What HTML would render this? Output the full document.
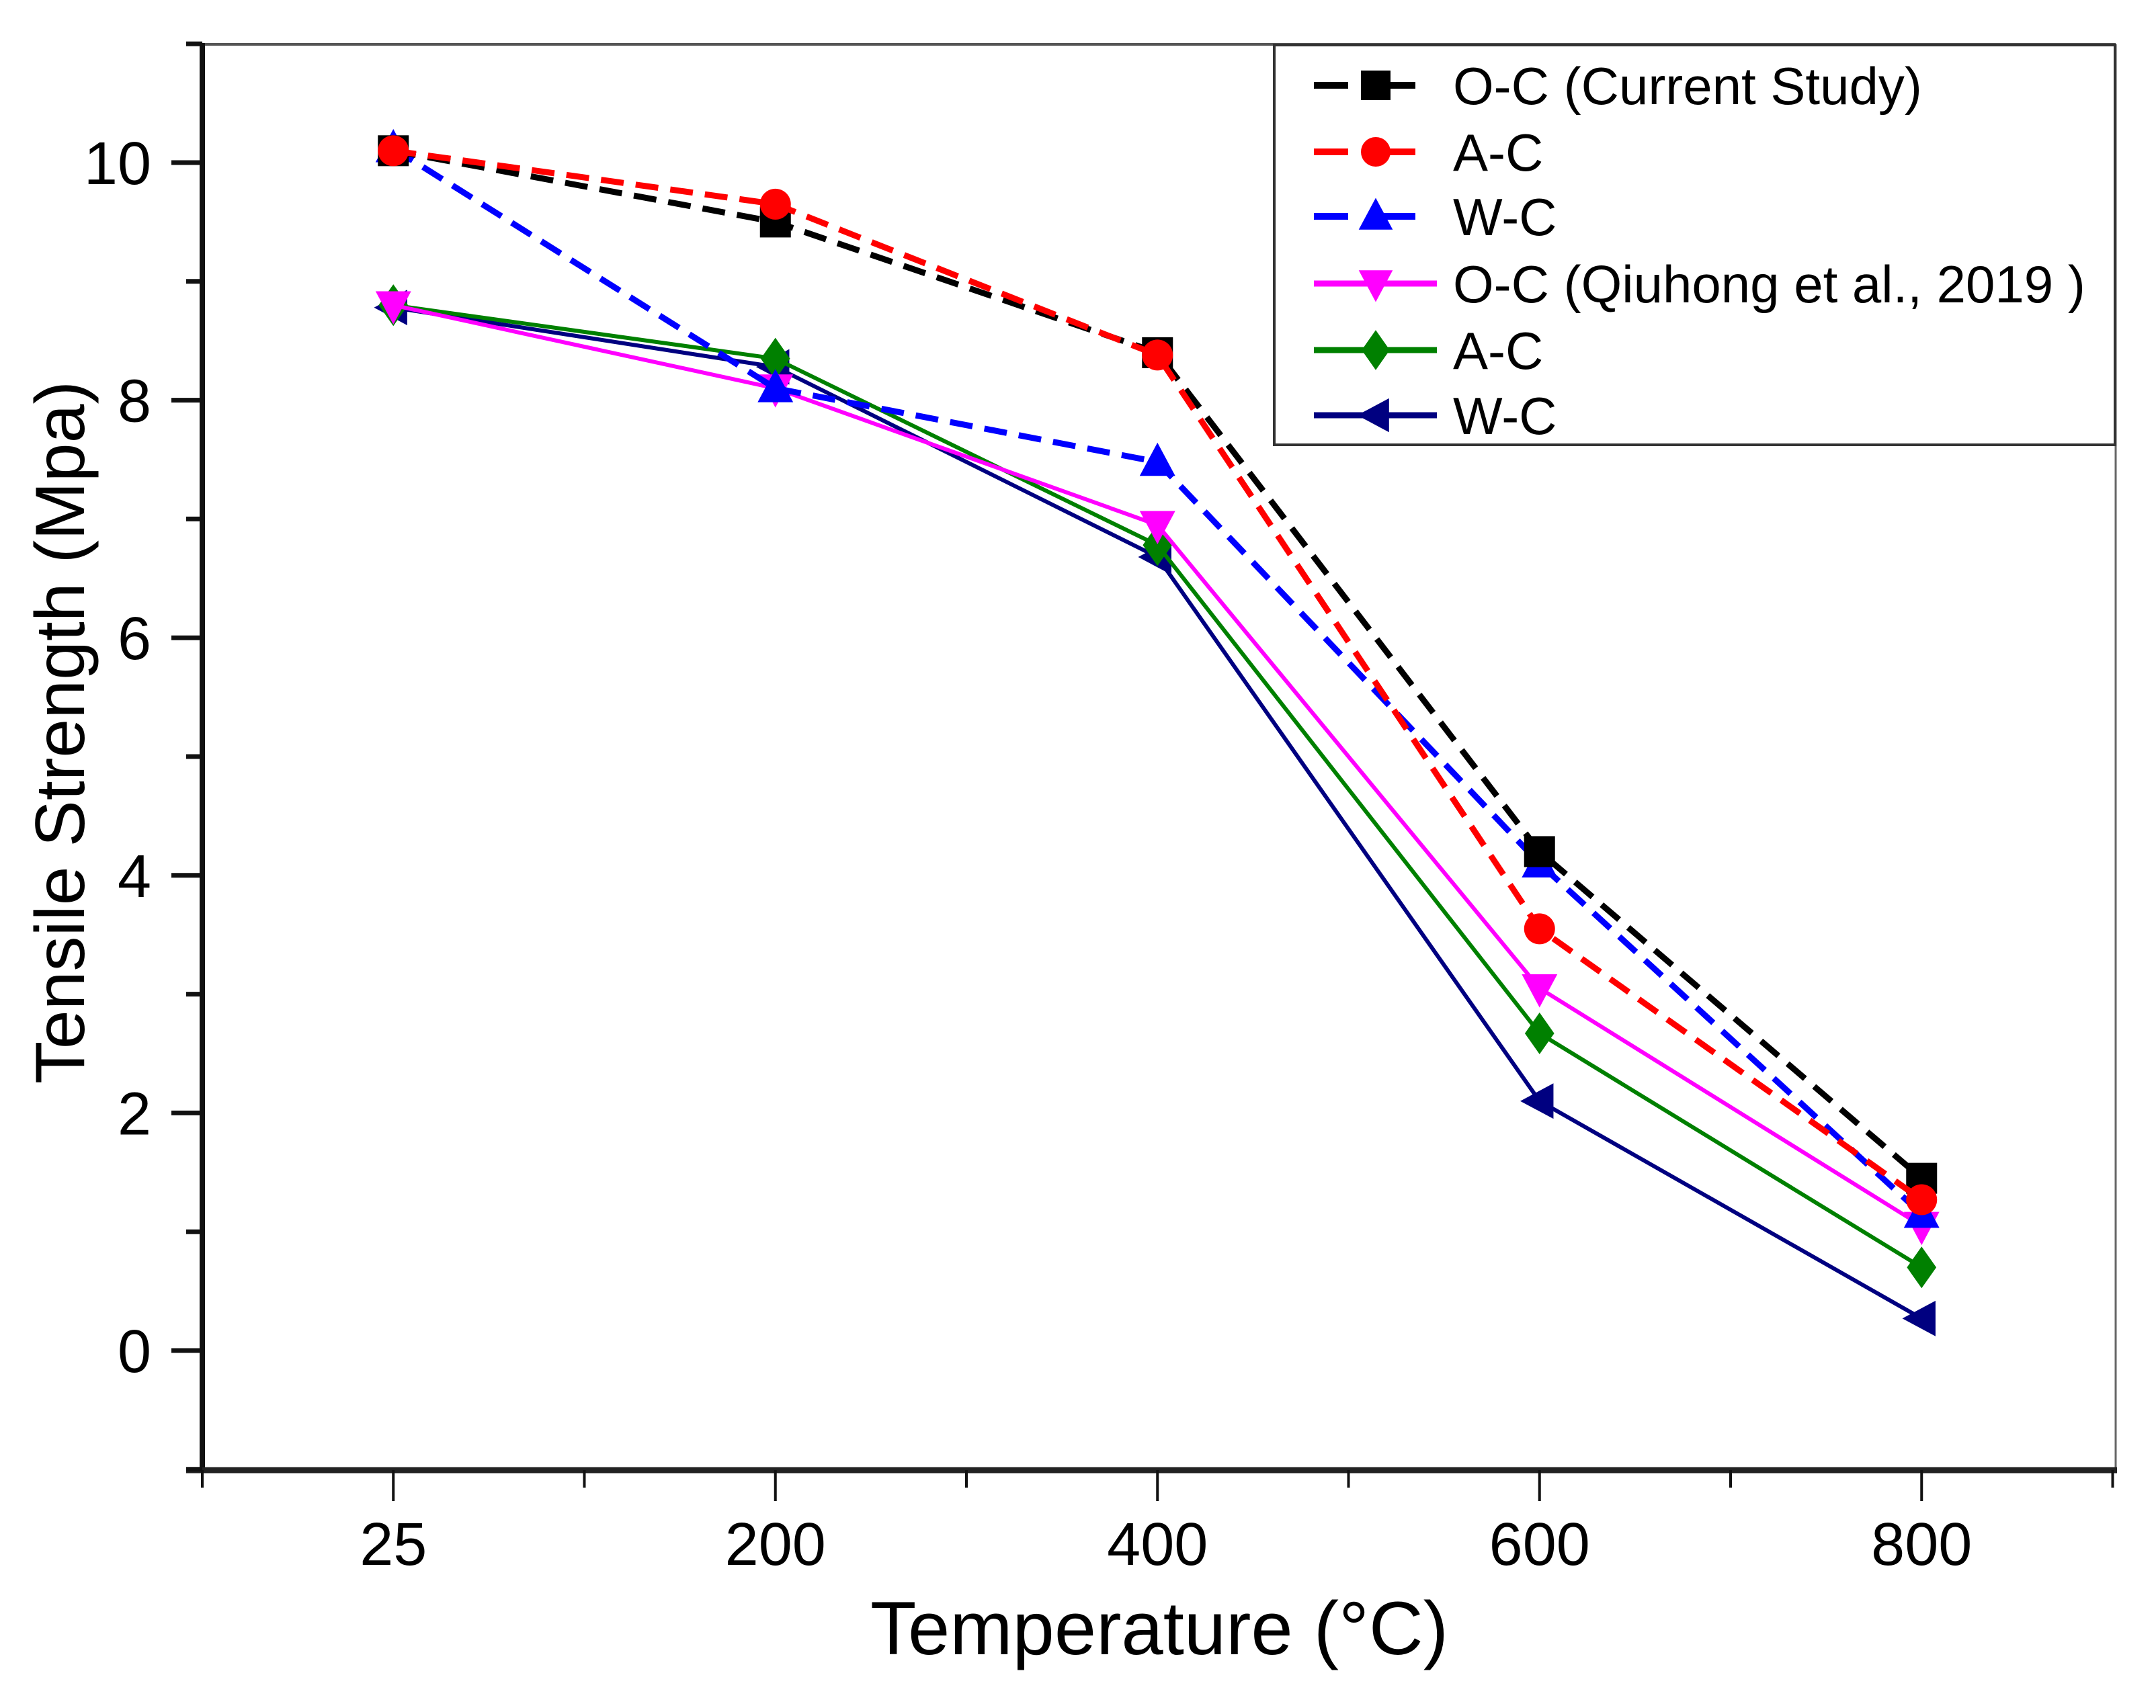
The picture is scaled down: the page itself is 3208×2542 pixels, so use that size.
<!DOCTYPE html>
<html><head><meta charset="utf-8"><style>
html,body{margin:0;padding:0;background:#fff;}
svg{display:block;font-family:"Liberation Sans",Arial,sans-serif;}
</style></head><body>
<svg id="chart" width="3208" height="2542" viewBox="0 0 3208 2542" xmlns="http://www.w3.org/2000/svg">
<rect width="3208" height="2542" fill="#fff"/>
<g id="axes"></g>
<g id="series"></g>
<g id="legend"></g>
</svg>
<script>
const categories = ["25","200","400","600","800"];
const seriesNames = ["O-C (Current Study)","A-C","W-C","O-C (Qiuhong et al., 2019 )","A-C","W-C"];
const ocCurrent = [10.1, 9.5, 8.4, 4.2, 1.45];
const acCurrent = [10.1, 9.65, 8.38, 3.55, 1.27];
const wcCurrent = [10.12, 8.1, 7.48, 4.1, 1.15];
const ocQiuhong = [8.8, 8.1, 6.95, 3.05, 1.05];
const acQiuhong = [8.8, 8.35, 6.78, 2.67, 0.7];
const wcQiuhong = [8.78, 8.28, 6.68, 2.1, 0.27];
const yTicks = [0, 2, 4, 6, 8, 10];
const yMinorTicks = [-1, 1, 3, 5, 7, 9, 11];

const NS = "http://www.w3.org/2000/svg";
const L = 301, R = 3148, T = 66, B = 2188;
const step = 568.5;
function xPos(i){ return L + step/2 + i*step; }
function yPos(v){ return 2010 - 176.8*v; }
function mk(tag, attrs, parent){
  const e = document.createElementNS(NS, tag);
  for (const k in attrs) e.setAttribute(k, attrs[k]);
  parent.appendChild(e); return e;
}
const axes = document.getElementById('axes');
const seriesG = document.getElementById('series');
const legendG = document.getElementById('legend');

let ln;
ln = mk('line',{x1:L,y1:T,x2:R,y2:T,stroke:'#555','stroke-width':4},axes);
 
ln = mk('line',{x1:R,y1:T,x2:R,y2:B,stroke:'#666','stroke-width':3},axes);
 
ln = mk('line',{x1:L,y1:T-2,x2:L,y2:B+4,stroke:'#111','stroke-width':8},axes);
 
ln = mk('line',{x1:L-24,y1:B,x2:R+2,y2:B,stroke:'#222','stroke-width':9},axes);
 

yTicks.forEach(v=>{
  const y = yPos(v);
  const t = mk('line',{x1:L-46,y1:y,x2:L,y2:y,stroke:'#111','stroke-width':7},axes);
   
  const tx = mk('text',{x:L-76,y:y+32,'font-size':90,'text-anchor':'end',fill:'#000'},axes);
  tx.textContent = v;
   
});
yMinorTicks.forEach(v=>{
  const y = yPos(v);
  const t = mk('line',{x1:L-24,y1:y,x2:L,y2:y,stroke:'#111','stroke-width':7},axes);
   
});
categories.forEach((c,i)=>{
  const x = xPos(i);
  const t = mk('line',{x1:x,y1:B,x2:x,y2:B+46,stroke:'#111','stroke-width':4},axes);
   
  const tx = mk('text',{x:x,y:2329,'font-size':90,'text-anchor':'middle',fill:'#000'},axes);
  tx.textContent = c;
   
});
for (let i=0;i<=categories.length;i++){
  const x = L + i*step;
  const t = mk('line',{x1:x,y1:B,x2:x,y2:B+26,stroke:'#111','stroke-width':4},axes);
   
}
let at = mk('text',{x:1725,y:2462,'font-size':112,'text-anchor':'middle',fill:'#000'},axes);
at.textContent = 'Temperature (°C)';
 
at = mk('text',{x:0,y:0,'font-size':104,'text-anchor':'middle',fill:'#000',transform:'translate(125,1090) rotate(-90)'},axes);
at.textContent = 'Tensile Strength (Mpa)';
 

function marker(shape, x, y, color, parent, s){
  s = s || 23;
  let e;
  if (shape==='square') e = mk('rect',{x:x-s,y:y-s,width:2*s,height:2*s,fill:color},parent);
  else if (shape==='circle') e = mk('circle',{cx:x,cy:y,r:s,fill:color},parent);
  else if (shape==='up') e = mk('polygon',{points:`${x},${y-s*1.25} ${x-s*1.15},${y+s*0.9} ${x+s*1.15},${y+s*0.9}`,fill:color},parent);
  else if (shape==='down') e = mk('polygon',{points:`${x},${y+s*1.25} ${x-s*1.15},${y-s*0.9} ${x+s*1.15},${y-s*0.9}`,fill:color},parent);
  else if (shape==='diamond') e = mk('polygon',{points:`${x},${y-s*1.35} ${x+s*0.95},${y} ${x},${y+s*1.35} ${x-s*0.95},${y}`,fill:color},parent);
  else e = mk('polygon',{points:`${x-s*1.25},${y} ${x+s*0.9},${y-s*1.15} ${x+s*0.9},${y+s*1.15}`,fill:color},parent);
  return e;
}

const defs = [
  {vals:wcQiuhong, color:'#000080', dash:null, shape:'left', name:'series-wc-qiuhong'},
  {vals:acQiuhong, color:'#008000', dash:null, shape:'diamond', name:'series-ac-qiuhong'},
  {vals:ocQiuhong, color:'#ff00ff', dash:null, shape:'down', name:'series-oc-qiuhong'},
  {vals:wcCurrent, color:'#0000ff', dash:'34 18', shape:'up', name:'series-wc-current'},
  {vals:ocCurrent, color:'#000000', dash:'34 18', shape:'square', name:'series-oc-current'},
  {vals:acCurrent, color:'#ff0000', dash:'34 18', shape:'circle', name:'series-ac-current'}
];
defs.forEach(d=>{
  const g = mk('g',{},seriesG);
  
  
  const pts = d.vals.map((v,i)=>xPos(i)+','+yPos(v)).join(' ');
  const pl = mk('polyline',{points:pts,fill:'none',stroke:d.color,'stroke-width':d.dash?9:6},g);
  if (d.dash) pl.setAttribute('stroke-dasharray', d.dash);
  
  
  d.vals.forEach((v,i)=>{
    const m = marker(d.shape, xPos(i), yPos(v), d.color, g);
    
    
  });
});

const lb = mk('rect',{x:1896,y:67,width:1251,height:595,fill:'#fff',stroke:'#333','stroke-width':4},legendG);
 
const legItems = [
  {color:'#000000', dash:true, shape:'square'},
  {color:'#ff0000', dash:true, shape:'circle'},
  {color:'#0000ff', dash:true, shape:'up'},
  {color:'#ff00ff', dash:false, shape:'down'},
  {color:'#008000', dash:false, shape:'diamond'},
  {color:'#000080', dash:false, shape:'left'}
];
const legY = [127, 226, 322, 422, 521, 618];
legItems.forEach((it,i)=>{
  const g = mk('g',{},legendG);
  
  
  const y = legY[i];
  if (it.dash){
    mk('line',{x1:1955,y1:y,x2:2006,y2:y,stroke:it.color,'stroke-width':10},g);
    mk('line',{x1:2045,y1:y,x2:2106,y2:y,stroke:it.color,'stroke-width':10},g);
  } else {
    mk('line',{x1:1955,y1:y,x2:2138,y2:y,stroke:it.color,'stroke-width':9},g);
  }
  marker(it.shape, 2047, y, it.color, g, 22);
  const tx = mk('text',{x:2162,y:y+28,'font-size':78,fill:'#000'},g);
  tx.textContent = seriesNames[i];
});
</script>
</body></html>
